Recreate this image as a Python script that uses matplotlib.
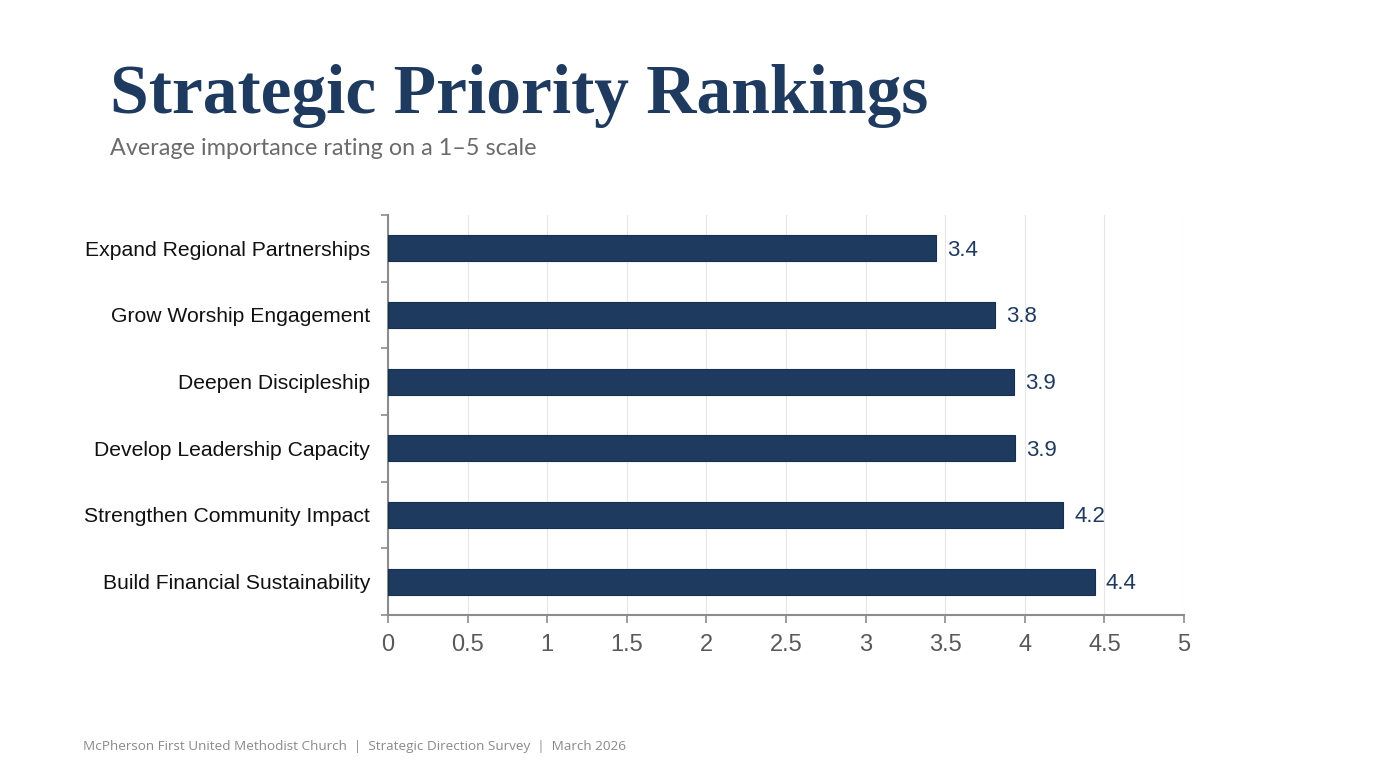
import matplotlib
matplotlib.use("Agg")
import matplotlib.pyplot as plt
from matplotlib.ticker import FixedLocator

categories = ["Expand Regional Partnerships", "Grow Worship Engagement", "Deepen Discipleship",
              "Develop Leadership Capacity", "Strengthen Community Impact", "Build Financial Sustainability"]
values = [3.44, 3.81, 3.93, 3.94, 4.24, 4.44]
x_ticks = [0, 0.5, 1, 1.5, 2, 2.5, 3, 3.5, 4, 4.5, 5]
x_tick_labels = ["0", "0.5", "1", "1.5", "2", "2.5", "3", "3.5", "4", "4.5", "5"]

title = "Strategic Priority Rankings"
subtitle = "Average importance rating on a 1\u20135 scale"
footer = "McPherson First United Methodist Church  |  Strategic Direction Survey  |  March 2026"

navy = "#1F3A5F"
W, H = 1394, 784
fig = plt.figure(figsize=(W / 100, H / 100), dpi=100)
fig.patch.set_facecolor("white")

ax = fig.add_axes([388 / W, 1 - 615 / H, (1184 - 388) / W, (615 - 215) / H])
n = len(categories)
ypos = list(range(n))
ax.barh(ypos, values, height=0.39, color=navy, edgecolor="#16304f", linewidth=0.8, zorder=3)
ax.set_ylim(n - 0.5, -0.5)
ax.set_xlim(0, 5)

ax.set_yticks(ypos)
ax.set_yticklabels(categories, fontsize=15.2, family="Liberation Sans", color="#111111")
ax.yaxis.set_minor_locator(FixedLocator([i - 0.5 for i in range(n + 1)]))
ax.tick_params(axis="y", which="major", length=0, pad=13)
ax.tick_params(axis="y", which="minor", length=5, width=1.2, color="#8c8c8c")

ax.set_xticks(x_ticks)
ax.set_xticklabels(x_tick_labels, fontsize=17, family="Liberation Sans", color="#595959")
ax.tick_params(axis="x", length=6, width=1.2, color="#8c8c8c", pad=8)

ax.grid(axis="x", color="#e6e6e6", linewidth=0.8, zorder=0)
ax.set_axisbelow(True)
for s in ["top", "right"]:
    ax.spines[s].set_visible(False)
for s in ["left", "bottom"]:
    ax.spines[s].set_color("#8c8c8c")
    ax.spines[s].set_linewidth(1.5)

for y, v in zip(ypos, values):
    ax.text(v + 0.07, y + 0.03, f"{v:.1f}", va="center", ha="left", fontsize=16,
            family="Liberation Sans", color=navy)

fig.text(110 / W, 1 - 113 / H, title, fontsize=50, fontweight="bold", family="Liberation Serif",
         color=navy, ha="left", va="baseline")
fig.text(110 / W, 1 - 155 / H, subtitle, fontsize=16.8, family="Lato", color="#6b6b6b",
         ha="left", va="baseline")
fig.text(83 / W, 1 - 750 / H, footer, fontsize=9.7, family="Open Sans", color="#8a8a8a",
         ha="left", va="baseline")

fig.savefig("out.png", dpi=100, facecolor="white")
